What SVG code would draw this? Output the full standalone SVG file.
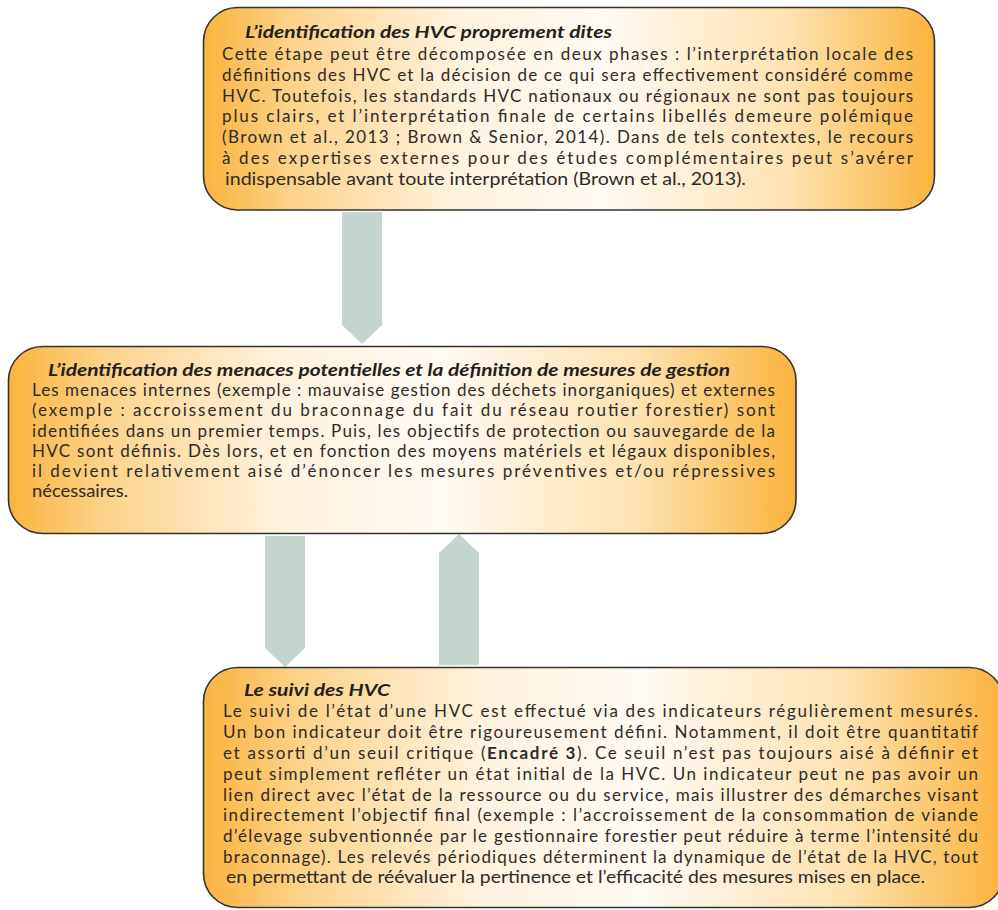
<svg xmlns="http://www.w3.org/2000/svg" width="998" height="910" viewBox="0 0 998 910">
<defs>
<linearGradient id="og" x1="0" y1="0" x2="1" y2="0">
<stop offset="0" stop-color="#fbb33e"/>
<stop offset="0.12" stop-color="#fdd289"/>
<stop offset="0.35" stop-color="#fff3e0"/>
<stop offset="0.55" stop-color="#fffaf3"/>
<stop offset="0.8" stop-color="#fee2b0"/>
<stop offset="1" stop-color="#fbb33e"/>
</linearGradient>
</defs>
<style>
.box{fill:url(#og);stroke:#333;stroke-width:1.6}
.arr{fill:#c3d5cd}
text{font-family:Lato,"Open Sans","Liberation Sans",sans-serif;font-size:17px;fill:#2e2b28}
.t{font-weight:bold;font-style:italic;fill:#231f1c}
.b{font-weight:bold}
</style>
<rect width="998" height="910" fill="#ffffff"/>
<g id="connectors">
<polygon class="arr" points="342,212 382,212 382,325 362,344 342,325"/>
<polygon class="arr" points="265,536 305,536 305,648 285,667 265,648"/>
<polygon class="arr" points="459,534 479,553 479,665 439,665 439,553"/>
</g>
<g id="node1">
<rect class="box" x="203.5" y="7.5" width="731" height="202.5" rx="34" ry="34"/>
<text class="t" x="245" y="38" textLength="367" lengthAdjust="spacingAndGlyphs">L’identification des HVC proprement dites</text>
<text x="222" y="59.5" textLength="691" lengthAdjust="spacing">Cette étape peut être décomposée en deux phases : l’interprétation locale des</text>
<text x="222" y="80.5" textLength="691" lengthAdjust="spacing">définitions des HVC et la décision de ce qui sera effectivement considéré comme</text>
<text x="222" y="101.5" textLength="691" lengthAdjust="spacing">HVC. Toutefois, les standards HVC nationaux ou régionaux ne sont pas toujours</text>
<text x="222" y="122" textLength="691" lengthAdjust="spacing">plus clairs, et l’interprétation finale de certains libellés demeure polémique</text>
<text x="222" y="143" textLength="691" lengthAdjust="spacing">(Brown et al., 2013 ; Brown &amp; Senior, 2014). Dans de tels contextes, le recours</text>
<text x="222" y="164" textLength="691" lengthAdjust="spacing">à des expertises externes pour des études complémentaires peut s’avérer</text>
<text x="225" y="185" textLength="521" lengthAdjust="spacingAndGlyphs">indispensable avant toute interprétation (Brown et al., 2013).</text>
</g>
<g id="node2">
<rect class="box" x="8.5" y="346.5" width="787.5" height="187" rx="34" ry="34"/>
<text class="t" x="48" y="376" textLength="682" lengthAdjust="spacingAndGlyphs">L’identification des menaces potentielles et la définition de mesures de gestion</text>
<text x="32" y="396" textLength="743" lengthAdjust="spacing">Les menaces internes (exemple : mauvaise gestion des déchets inorganiques) et externes</text>
<text x="32" y="416" textLength="743" lengthAdjust="spacing">(exemple : accroissement du braconnage du fait du réseau routier forestier) sont</text>
<text x="32" y="436.5" textLength="743" lengthAdjust="spacing">identifiées dans un premier temps. Puis, les objectifs de protection ou sauvegarde de la</text>
<text x="32" y="456.5" textLength="743" lengthAdjust="spacing">HVC sont définis. Dès lors, et en fonction des moyens matériels et légaux disponibles,</text>
<text x="32" y="476.5" textLength="743" lengthAdjust="spacing">il devient relativement aisé d’énoncer les mesures préventives et/ou répressives</text>
<text x="32" y="497" textLength="96" lengthAdjust="spacingAndGlyphs">nécessaires.</text>
</g>
<g id="node3">
<rect class="box" x="203.5" y="667.5" width="800" height="240" rx="34" ry="34"/>
<text class="t" x="244" y="696" textLength="146" lengthAdjust="spacingAndGlyphs">Le suivi des HVC</text>
<text x="223" y="717" textLength="755" lengthAdjust="spacing">Le suivi de l’état d’une HVC est effectué via des indicateurs régulièrement mesurés.</text>
<text x="223" y="738" textLength="755" lengthAdjust="spacing">Un bon indicateur doit être rigoureusement défini. Notamment, il doit être quantitatif</text>
<text x="223" y="759" textLength="755" lengthAdjust="spacing">et assorti d’un seuil critique (<tspan class="b">Encadré 3</tspan>). Ce seuil n’est pas toujours aisé à définir et</text>
<text x="223" y="779.5" textLength="755" lengthAdjust="spacing">peut simplement refléter un état initial de la HVC. Un indicateur peut ne pas avoir un</text>
<text x="223" y="800.5" textLength="755" lengthAdjust="spacing">lien direct avec l’état de la ressource ou du service, mais illustrer des démarches visant</text>
<text x="223" y="821" textLength="755" lengthAdjust="spacing">indirectement l’objectif final (exemple : l’accroissement de la consommation de viande</text>
<text x="223" y="842" textLength="755" lengthAdjust="spacing">d’élevage subventionnée par le gestionnaire forestier peut réduire à terme l’intensité du</text>
<text x="223" y="862.5" textLength="755" lengthAdjust="spacing">braconnage). Les relevés périodiques déterminent la dynamique de l’état de la HVC, tout</text>
<text x="226" y="883" textLength="699" lengthAdjust="spacingAndGlyphs">en permettant de réévaluer la pertinence et l’efficacité des mesures mises en place.</text>
</g>
</svg>
